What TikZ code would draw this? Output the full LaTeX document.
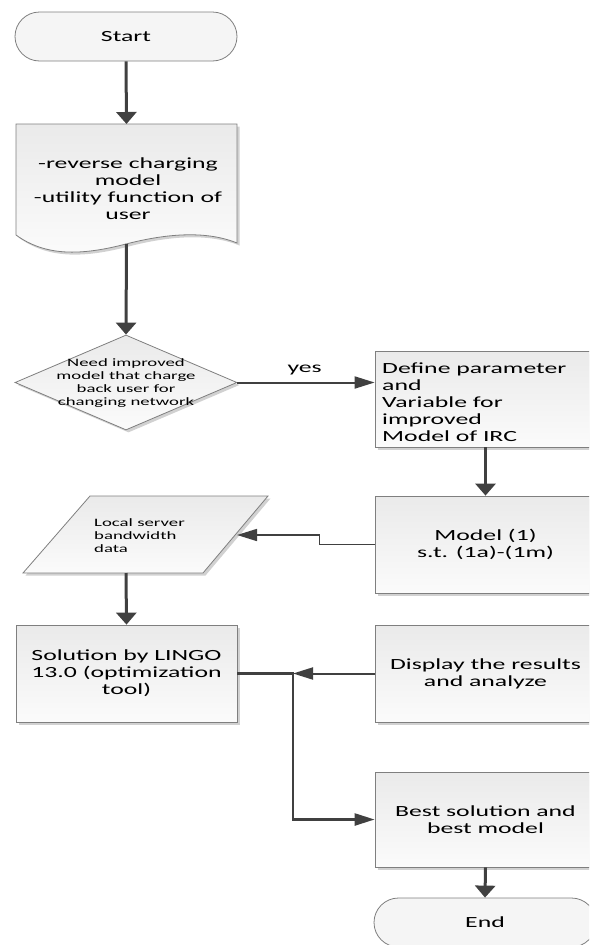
\documentclass[tikz,border=0pt]{standalone}
\usepackage{fontspec}
\setmainfont{Carlito}[FakeStretch=1.66]
\usetikzlibrary{arrows.meta,shapes.geometric,shapes.misc,shadows,calc}
\definecolor{lnc}{HTML}{404040}
\definecolor{bdc}{HTML}{7F7F7F}
\definecolor{ftop}{HTML}{EAEAEA}
\definecolor{fbot}{HTML}{FBFBFB}
\begin{document}
\begin{tikzpicture}[x=1pt,y=-1pt,
  fillshade/.style={draw=bdc, line width=0.8pt, top color=ftop, bottom color=fbot},
  shad/.style={drop shadow={shadow xshift=2.5pt, shadow yshift=-2.5pt, fill=black!30, opacity=0.6}},
  bigtxt/.style={font=\fontsize{15.5}{17}\selectfont},
  smalltxt/.style={font=\fontsize{11.3}{12.9}\selectfont},
  box/.style={rectangle, fillshade, shad, minimum width=221pt, inner sep=0pt, bigtxt, align=center},
  term/.style={rounded rectangle, draw=bdc, line width=0.8pt, fill=white!96!black, inner sep=0pt, minimum width=222pt, minimum height=49pt, bigtxt},
  vconn/.style={draw=lnc, line width=3pt, -{Triangle[width=20pt,length=12pt]}},
  hconn/.style={draw=lnc, line width=2pt, -{Triangle[width=12pt,length=20pt]}},
  tconn/.style={draw=lnc, line width=1.6pt, -{Triangle[width=12pt,length=20pt]}},
  rconn/.style={draw=lnc, line width=2.5pt, -{Triangle[width=12pt,length=20pt]}},
]
\useasboundingbox (0,0) rectangle (589,945);
\clip (0,0) rectangle (589,945);

% Start
\node[term] (start) at (126,36.5) {Start};

% Document shape
\path[fillshade, shad] (16,124) -- (237,124) -- (237,243)
  .. controls (205,230) and (165,234) .. (126,244)
  .. controls (80,256) and (45,256) .. (16,235) -- cycle;
\coordinate (doctop) at (126.5,124);
\coordinate (docbot) at (126.5,244);
\node[bigtxt, align=center, inner sep=0pt] (doc) at (128,188.5)
  {-reverse charging\\model\\-utility function of\\user};

% Decision
\node[diamond, fillshade, shad, minimum width=222pt, minimum height=95pt, inner sep=0pt] (dec) at (126,382.5) {};
\node[smalltxt, align=center, inner sep=0pt] (dectext) at (126,383)
  {Need improved\\model that charge\\back user for\\changing network};

% Define box
\node[box, minimum height=96pt] (define) at (485.5,399) {};
\node[bigtxt, align=left, anchor=west, inner sep=0pt] (deftext) at (382,402.5)
  {Define parameter\\and\\Variable for\\improved\\Model of IRC};

% Model box
\node[box, minimum height=97pt] (model) at (485.5,544.5) {Model (1)\\s.t. (1a)-(1m)};

% Parallelogram (data)
\path[fillshade, shad] (90,496) -- (268,496) -- (203,573) -- (23,573) -- cycle;
\node[smalltxt, align=left, anchor=west, inner sep=0pt] (param) at (94,535.5)
  {Local server\\bandwidth\\data};
\coordinate (pin) at (237,535);
\coordinate (pbot) at (126,573);

% Solution box
\node[box, minimum height=97pt] (sol) at (126.5,673.5) {Solution by LINGO\\13.0 (optimization\\tool)};

% Display box
\node[box, minimum height=97pt] (disp) at (485.5,673.5) {Display the results\\and analyze};

% Best box
\node[box, minimum height=95pt] (best) at (485.5,819.5) {Best solution and\\best model};

% End
\node[term] (end) at (485,922.5) {End};

% Connectors
\draw[vconn] (start.south) -- (doctop);
\draw[vconn] (docbot) -- (dec.north);
\draw[hconn] (dec.east) -- node[bigtxt, above=3pt, pos=0.49] (yes) {yes} (dec.east -| define.west);
\draw[vconn] (define.south) -- (model.north);
\draw[tconn] (model.west) -- ++(-55,0) |- (pin);
\draw[vconn] (pbot) -- (sol.north);
\coordinate (jn) at (293,673.5);
\draw[hconn] (disp.west) -- (jn);
\draw[rconn] (sol.east) -- (jn) |- (best.west);
\draw[vconn] (best.south) -- (end.north);
\end{tikzpicture}
\end{document}
